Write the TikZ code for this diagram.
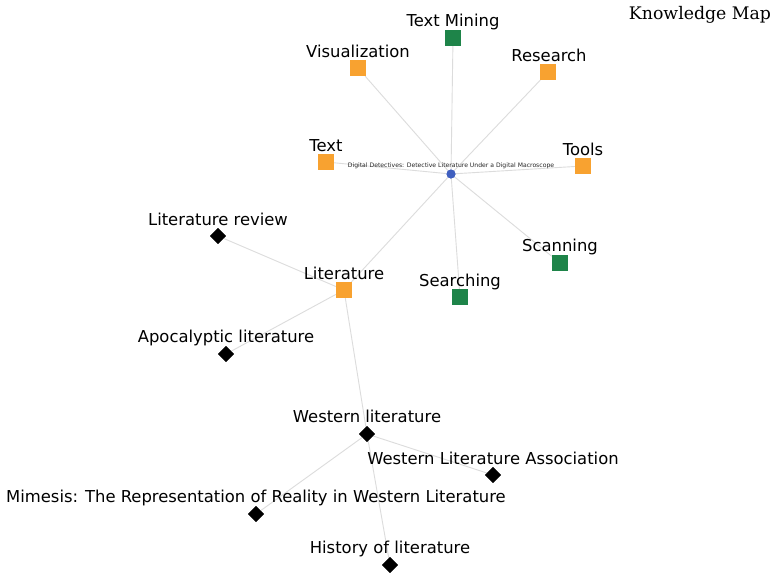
\documentclass[tikz,border=0pt]{standalone}
\usepackage{fontspec}
\setmainfont{DejaVu Sans}
\newfontfamily\titlefont{DejaVu Serif}
\usetikzlibrary{shapes.geometric}
\definecolor{orng}{RGB}{248,162,48}
\definecolor{grn}{RGB}{30,132,73}
\definecolor{blu}{RGB}{63,95,191}
\definecolor{edg}{RGB}{220,220,220}
\tikzset{
  sq/.style={rectangle, fill=#1, minimum size=16pt, inner sep=0pt},
  dm/.style={diamond, fill=black, minimum size=16pt, inner sep=0pt},
  lab/.style={font=\fontsize{16.4}{19}\selectfont, text=black, inner sep=0pt, yshift=-1.5pt},
  edge/.style={draw=edg, line width=0.9pt},
}
\begin{document}
\begin{tikzpicture}[x=1pt,y=-1pt]
\useasboundingbox[fill=white] (0,0) rectangle (776,573);
% nodes
\node[circle, fill=blu, minimum size=9pt, inner sep=0pt] (c) at (451,174) {};
\node[sq=grn] (tm) at (453,38) {};
\node[sq=orng] (vis) at (358,68) {};
\node[sq=orng] (res) at (548,72) {};
\node[sq=orng] (txt) at (326,162) {};
\node[sq=orng] (tools) at (583,166) {};
\node[sq=grn] (scan) at (560,263) {};
\node[sq=grn] (search) at (460,297) {};
\node[sq=orng] (lit) at (344,290) {};
\node[dm] (litrev) at (218,236) {};
\node[dm] (apoc) at (226,354) {};
\node[dm] (west) at (367,434) {};
\node[dm] (wla) at (493,475) {};
\node[dm] (mim) at (256,514) {};
\node[dm] (hist) at (390,565) {};
% edges
\foreach \n in {tm,vis,res,txt,tools,scan,search,lit}{\draw[edge] (c) -- (\n);}
\foreach \n in {litrev,apoc,west}{\draw[edge] (lit) -- (\n);}
\foreach \n in {wla,mim,hist}{\draw[edge] (west) -- (\n);}
% redraw nodes on top
\node[circle, fill=blu, minimum size=9pt, inner sep=0pt] at (c) {};
\foreach \n/\col in {tm/grn,vis/orng,res/orng,txt/orng,tools/orng,scan/grn,search/grn,lit/orng}{\node[sq=\col] at (\n) {};}
\foreach \n in {litrev,apoc,west,wla,mim,hist}{\node[dm] at (\n) {};}
% labels
\node[font=\fontsize{6.1}{7}\selectfont, text=black!85, inner sep=0pt] (clab) at (451,166) {Digital Detectives: Detective Literature Under a Digital Macroscope};
\node[lab] (ltm) at (453,20) {Text Mining};
\node[lab] (lvis) at (358,50) {Visualization};
\node[lab] (lres) at (549,54) {Research};
\node[lab] (ltxt) at (326,144) {Text};
\node[lab] (ltools) at (583,148) {Tools};
\node[lab] (lscan) at (560,245) {Scanning};
\node[lab] (lsearch) at (460,280) {Searching};
\node[lab] (llit) at (344,272) {Literature};
\node[lab] (llitrev) at (218,218) {Literature review};
\node[lab] (lapoc) at (226,336) {Apocalyptic literature};
\node[lab] (lwest) at (367,415) {Western literature};
\node[lab] (lwla) at (493,457) {Western Literature Association};
\node[lab] (lmim) at (256,496) {Mimesis: The Representation of Reality in Western Literature};
\node[lab] (lhist) at (390,547) {History of literature};
\node[font=\titlefont\fontsize{17.3}{20}\selectfont, inner sep=0pt] (title) at (700,15) {Knowledge Map};
\end{tikzpicture}
\end{document}
